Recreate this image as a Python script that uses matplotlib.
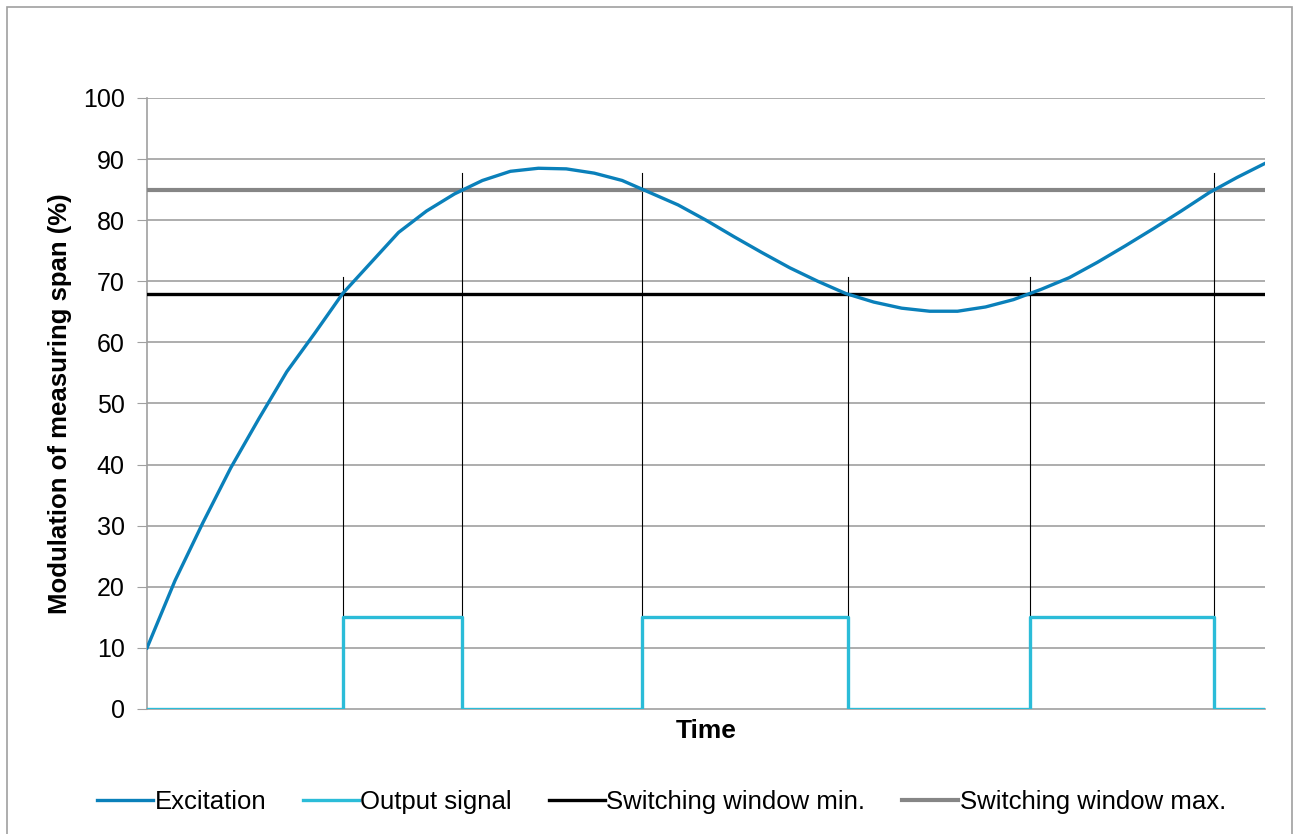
import matplotlib
matplotlib.use('Agg')
from matplotlib import pyplot as plt
from matplotlib.patches import Rectangle

# Time axis in arbitrary units (0..40), excitation sampled every unit
time = list(range(41))
excitation = [10.0, 21.0, 30.5, 39.5, 47.5, 55.2, 61.5, 68.0, 73.0, 78.0,
              81.5, 84.3, 86.5, 88.0, 88.5, 88.4, 87.7, 86.5, 84.5, 82.5,
              80.0, 77.3, 74.7, 72.2, 70.0, 68.0, 66.6, 65.6, 65.1, 65.1,
              65.8, 67.0, 68.7, 70.6, 73.1, 75.8, 78.6, 81.5, 84.5, 87.0,
              89.3]

# Switching instants (where excitation crosses the window limits)
switch_times = [7.0, 11.27, 17.71, 25.08, 31.59, 38.17]
marker_tops = [70.7, 87.8, 87.8, 70.7, 70.7, 87.8]
out_time = [0] + switch_times + [40]
out_level = [0, 15, 0, 15, 0, 15, 0]

window_min = 68
window_max = 85

c_exc = '#0A80BA'
c_out = '#2BBCD8'


def main():
    plt.rcParams['font.family'] = ['Liberation Sans', 'DejaVu Sans']
    fig = plt.figure(figsize=(13, 8.34), dpi=100)
    ax = fig.add_axes([0.1131, 0.1499, 0.86, 0.7326])

    # outer frame around the chart
    fig.patches.append(Rectangle((7 / 1300, -0.01), 1285 / 1300, 1 - 7 / 834 + 0.01,
                                 transform=fig.transFigure, fill=False,
                                 edgecolor='#A0A0A0', linewidth=1.2))

    # grid lines
    for v in range(10, 101, 10):
        ax.axhline(v, color='#A0A0A0', linewidth=1.2, zorder=1)

    # thin vertical markers at switching points
    for t, top in zip(switch_times, marker_tops):
        ax.plot([t, t], [0, top], color='black', linewidth=0.8, zorder=2)

    ax.plot(time, excitation, color=c_exc, linewidth=2.4, label='Excitation', zorder=5)
    ax.step(out_time, out_level + [0], where='post', color=c_out, linewidth=2.4,
            label='Output signal', zorder=4)
    ax.axhline(window_min, color='black', linewidth=2.4, label='Switching window min.', zorder=3)
    ax.axhline(window_max, color='#868686', linewidth=3.0, label='Switching window max.', zorder=3)

    ax.set_xlim(0, 40)
    ax.set_ylim(0, 100)
    ax.set_yticks(range(0, 101, 10))
    ax.set_xticks([])
    ax.tick_params(axis='y', labelsize=18, length=7, color='#A0A0A0', pad=9)

    for side in ['top', 'right']:
        ax.spines[side].set_visible(False)
    ax.spines['left'].set_color('#A0A0A0')
    ax.spines['bottom'].set_color('#A0A0A0')
    ax.spines['left'].set_linewidth(1.2)
    ax.spines['bottom'].set_linewidth(1.2)

    ax.set_xlabel('Time', fontsize=19, fontweight='bold', labelpad=7)
    ax.set_ylabel('Modulation of measuring span (%)', fontsize=18.5, fontweight='bold', labelpad=8)

    ax.legend(loc='center', bbox_to_anchor=(0.46, -0.152), ncol=4, frameon=False,
              fontsize=18.5, handlelength=2.2, handletextpad=0.05, columnspacing=1.42)

    fig.savefig('out.png', dpi=100)


if __name__ == '__main__':
    main()
